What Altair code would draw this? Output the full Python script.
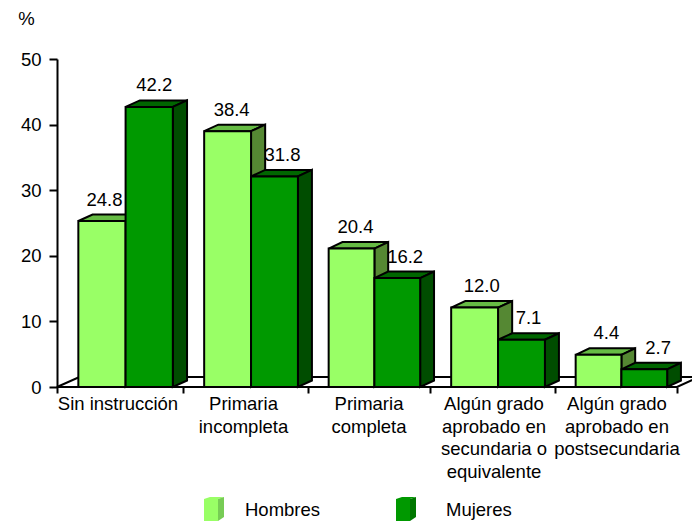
import altair as alt
import pandas as pd

categories = ["Sin instrucción", "Primaria\nincompleta", "Primaria\ncompleta",
              "Algún grado\naprobado en\nsecundaria o\nequivalente",
              "Algún grado\naprobado en\npostsecundaria"]
series = ["Hombres", "Mujeres"]
hombres_label = ["24.8", "38.4", "20.4", "12.0", "4.4"]
mujeres_label = ["42.2", "31.8", "16.2", "7.1", "2.7"]
# heights as drawn in the picture (slightly above the printed labels)
hombres_drawn = [25.3, 39.0, 21.1, 12.1, 4.9]
mujeres_drawn = [42.7, 32.1, 16.6, 7.2, 2.7]
y_ticks = [0, 10, 20, 30, 40, 50]

FRONT = {"Hombres": "#99FF66", "Mujeres": "#009900"}
TOP = {"Hombres": "#66BB44", "Mujeres": "#006600"}
SIDE = {"Hombres": "#558833", "Mujeres": "#004D00"}
LEG_SIDE = {"Hombres": "#77CC55", "Mujeres": "#007700"}
FONT = "Liberation Sans"
FS = 18.5

# layout: slightly uneven category widths of the original, label nudges in px
CAT_RANGE = [0, 126, 251, 373, 498, 620, 643]
LABEL_NUDGE = {"Hombres": [2.5, 4, 4, 7, 8], "Mujeres": [5, 8, 8, 7, 14]}
CAT_NUDGE = [-2, -2, 0, 1.5, 1]

PW, PH = 635, 328
CAT_PX = 124.0
UNIT_PX = PH / 50.0
x_scale = alt.Scale(domain=[0, 1, 2, 3, 4, 5, 5 + 23 / 122], range=CAT_RANGE, nice=False, zero=False)
y_scale = alt.Scale(domain=[0, 50], range=[PH, 0], nice=False)
x_axis = alt.Axis(
    values=list(range(6)), labels=False, title=None, domain=False, ticks=True, grid=False,
    tickSize=6, tickWidth=2, tickColor="black")
y_axis = alt.Axis(
    values=y_ticks, title="%", titleAngle=0, titleX=-31, titleY=-31, titleFont=FONT,
    titleFontSize=FS, titleFontWeight="normal", titleColor="black", titleAlign="center",
    labelFont=FONT, labelFontSize=FS, labelColor="black", labelPadding=8,
    domainColor="black", domainWidth=2, tickColor="black", tickWidth=2, tickSize=8,
    grid=False)
X = lambda f="x": alt.X(f"{f}:Q", scale=x_scale, axis=x_axis)
Y = lambda f="y": alt.Y(f"{f}:Q", scale=y_scale, axis=y_axis)

BAR_OFF, BAR_W = 21 / CAT_PX, 46.5 / CAT_PX
DX, DY = 14 / CAT_PX, 6.5 / UNIT_PX
FLOOR_DX, FLOOR_DY = 22 / CAT_PX, 10 / UNIT_PX


def top_face(l, r, t, dx, dy, key):
    return [
        dict(x=l, y=t, y2=t, k=key),
        dict(x=l + dx, y=t + dy, y2=t, k=key),
        dict(x=r, y=t + dy, y2=t, k=key),
        dict(x=r + dx, y=t + dy, y2=t + dy, k=key),
    ]


def side_face(r, t, dx, dy, key):
    return [dict(x=r, y=t, y2=0, k=key), dict(x=r + dx, y=t + dy, y2=dy, k=key)]


layers = []

floor = pd.DataFrame(top_face(0, 5, 0, FLOOR_DX, FLOOR_DY, "floor"))
layers.append(alt.Chart(floor).mark_area(fill="white", stroke="black", strokeWidth=2).encode(
    x=X(), y=Y(), y2="y2:Q"))

drawn = {"Hombres": hombres_drawn, "Mujeres": mujeres_drawn}
texts = {"Hombres": hombres_label, "Mujeres": mujeres_label}
label_rows = []
for s_i, s in enumerate(series):
    tops, sides, fronts = [], [], []
    for c_i, v in enumerate(drawn[s]):
        l = c_i + BAR_OFF + s_i * BAR_W
        r = l + BAR_W
        tops += top_face(l, r, v, DX, DY, c_i)
        sides += side_face(r, v, DX, DY, c_i)
        fronts.append(dict(x=l, x2=r, y=v))
        label_rows.append(dict(x=(l + r) / 2 + LABEL_NUDGE[s][c_i] / CAT_PX, y=v + DY, t=texts[s][c_i]))
    layers.append(alt.Chart(pd.DataFrame(tops)).mark_area(fill=TOP[s], stroke="black", strokeWidth=2).encode(
        x=X(), y=Y(), y2="y2:Q", detail="k:N"))
    layers.append(alt.Chart(pd.DataFrame(sides)).mark_area(fill=SIDE[s], stroke="black", strokeWidth=2).encode(
        x=X(), y=Y(), y2="y2:Q", detail="k:N"))
    layers.append(alt.Chart(pd.DataFrame(fronts)).mark_rect(fill=FRONT[s], stroke="black", strokeWidth=2).encode(
        x=X(), x2="x2:Q", y=Y(), y2=alt.datum(0)))

# value labels
layers.append(alt.Chart(pd.DataFrame(label_rows)).mark_text(
    font=FONT, fontSize=FS, color="black", baseline="alphabetic", dy=-9).encode(
    x=X(), y=Y(), text="t:N"))

# category labels
cat_df = pd.DataFrame([dict(x=i + 0.5 + CAT_NUDGE[i] / CAT_PX, y=0, t=c) for i, c in enumerate(categories)])
layers.append(alt.Chart(cat_df).mark_text(
    font=FONT, fontSize=FS, color="black", baseline="top", dy=8, lineBreak="\n", lineHeight=22.5).encode(
    x=X(), y=Y(), text="t:N"))


# legend: pixel layout converted back through the scale's pieces
def px(p):
    rel = p - 57
    for i in range(len(CAT_RANGE) - 1):
        if rel <= CAT_RANGE[i + 1]:
            return i + (rel - CAT_RANGE[i]) / (CAT_RANGE[i + 1] - CAT_RANGE[i])
    return 5.0


py = lambda p: (387 - p) / UNIT_PX
for s, left, tx in zip(series, [204, 396], [245, 446]):
    l, r, b = px(left), px(left + 14), px(left + 20)
    fr = pd.DataFrame([dict(x=l, x2=r, y=py(499), y2=py(521))])
    layers.append(alt.Chart(pd.DataFrame(top_face(l, r, py(499), b - r, 2 / UNIT_PX, 0))).mark_area(
        fill=FRONT[s]).encode(x=X(), y=Y(), y2="y2:Q"))
    layers.append(alt.Chart(pd.DataFrame([
        dict(x=r, y=py(499), y2=py(521)),
        dict(x=b, y=py(497), y2=py(517))])).mark_area(fill=LEG_SIDE[s]).encode(x=X(), y=Y(), y2="y2:Q"))
    layers.append(alt.Chart(fr).mark_rect(fill=FRONT[s]).encode(x=X(), x2="x2:Q", y=Y(), y2="y2:Q"))
    layers.append(alt.Chart(pd.DataFrame([dict(x=px(tx), y=py(510), t=s)])).mark_text(
        font=FONT, fontSize=FS, color="black", align="left", baseline="middle").encode(
        x=X(), y=Y(), text="t:N"))

chart = alt.layer(*layers).properties(
    width=PW, height=PH,
    autosize=alt.AutoSizeParams(type="none"),
    padding={"left": 49, "top": 51, "right": 0, "bottom": 134},
    background="white",
).configure_view(stroke=None)

chart.save("out.html", embed_options={"renderer": "svg", "actions": False})
